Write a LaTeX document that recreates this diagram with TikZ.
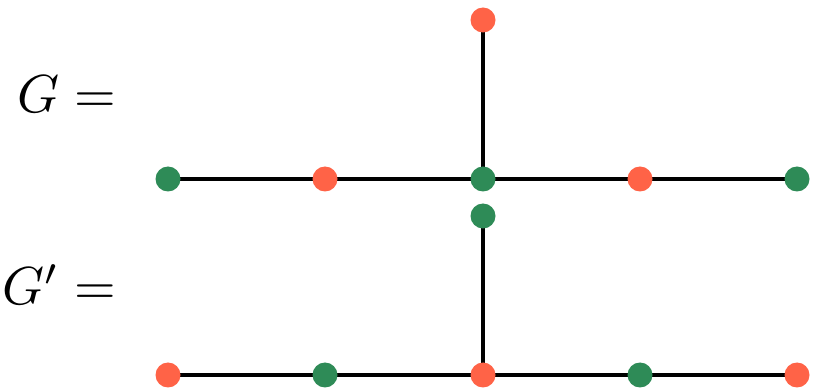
\documentclass[tikz,border=0pt]{standalone}
\usepackage{graphicx}
\usetikzlibrary{backgrounds}
\definecolor{vred}{RGB}{255,99,71}
\definecolor{vgreen}{RGB}{46,139,87}
\tikzset{
  rv/.style={circle,fill=vred,inner sep=0pt,minimum size=25pt},
  gv/.style={circle,fill=vgreen,inner sep=0pt,minimum size=25pt},
  edge/.style={line width=3.2pt,black},
  lbl/.style={anchor=base east,inner sep=0pt}
}
\begin{document}
\begin{tikzpicture}[x=1pt,y=-1pt]
\useasboundingbox (0,0) rectangle (815,390);
% G
\node[lbl] (lg) at (116,113) {\scalebox{5.35}{$G =$}};
\node[rv] (t1) at (483,20) {};
\node[gv] (a1) at (168,179) {};
\node[rv] (a2) at (325,179) {};
\node[gv] (a3) at (483,179) {};
\node[rv] (a4) at (640,179) {};
\node[gv] (a5) at (797,179) {};
% G'
\node[lbl] (lg2) at (116,305) {\scalebox{5.35}{$G' =$}};
\node[gv] (t2) at (483,216) {};
\node[rv] (b1) at (168,375) {};
\node[gv] (b2) at (325,375) {};
\node[rv] (b3) at (483,375) {};
\node[gv] (b4) at (640,375) {};
\node[rv] (b5) at (797,375) {};
\begin{scope}[on background layer]
\draw[edge] (t1.center) -- (a3.center);
\draw[edge] (a1.center) -- (a5.center);
\draw[edge] (t2.center) -- (b3.center);
\draw[edge] (b1.center) -- (b5.center);
\end{scope}
\end{tikzpicture}
\end{document}
